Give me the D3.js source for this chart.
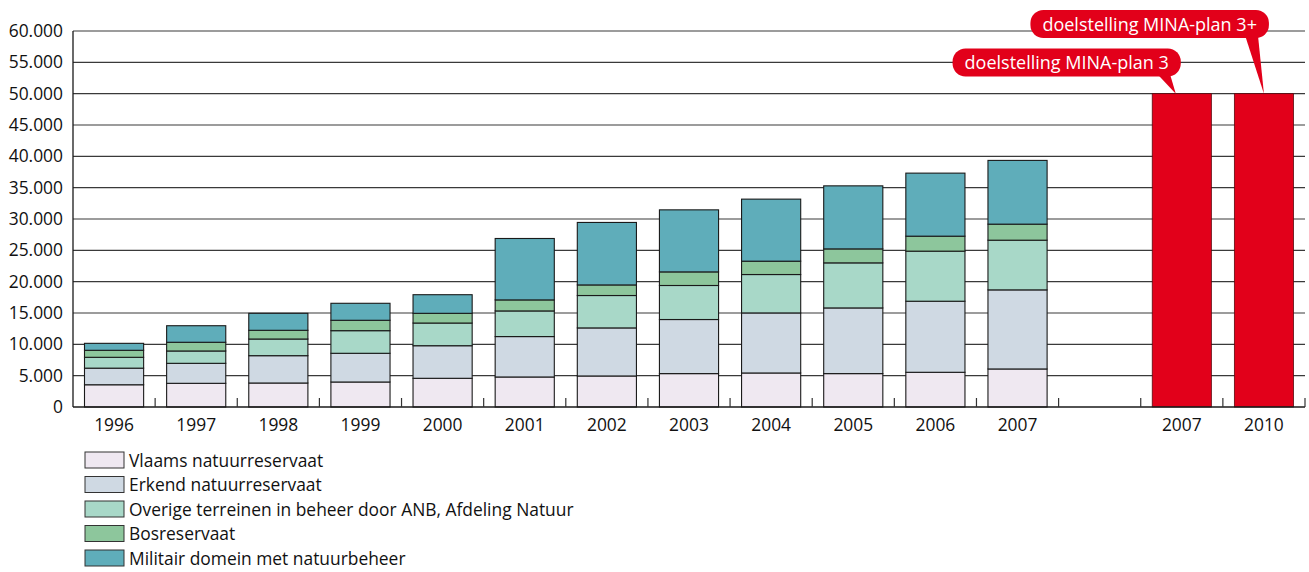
<!DOCTYPE html>
<html>
<head>
<meta charset="utf-8">
<script src="https://cdn.jsdelivr.net/npm/d3@7"></script>
<style>
  html, body { margin: 0; padding: 0; background: #fff; }
  svg { display: block; font-family: "Open Sans", "Noto Sans", sans-serif; }
</style>
</head>
<body>
<svg id="chart" width="1309" height="572"></svg>
<script>
// ---------- data ----------
const years = ["1996","1997","1998","1999","2000","2001","2002","2003","2004","2005","2006","2007"];
const seriesNames = [
  "Vlaams natuurreservaat",
  "Erkend natuurreservaat",
  "Overige terreinen in beheer door ANB, Afdeling Natuur",
  "Bosreservaat",
  "Militair domein met natuurbeheer"
];
const vlaams   = [3550, 3780, 3830, 3990, 4580, 4790, 4950, 5330, 5430, 5330, 5540, 6070];
const erkend   = [2650, 3190, 4360, 4580, 5200, 6450, 7670, 8630, 9580, 10480, 11340, 12620];
const overige  = [1730, 1970, 2660, 3610, 3620, 4090, 5170, 5430, 6130, 7190, 7990, 7930];
const bos      = [1120, 1390, 1390, 1660, 1550, 1760, 1690, 2170, 2130, 2230, 2390, 2560];
const militair = [1110, 2640, 2710, 2710, 2970, 9800, 9970, 9900, 9900, 10060, 10060, 10170];
const targetLabels = ["2007", "2010"];
const targetValues = [50000, 50000];
const targetNotes  = ["doelstelling MINA-plan 3", "doelstelling MINA-plan 3+"];
const yTicks = [0,5000,10000,15000,20000,25000,30000,35000,40000,45000,50000,55000,60000];

// ---------- styles ----------
const colors = ["#efe8f1", "#cfd9e3", "#a8d8c8", "#8dc69c", "#5fadba"];
const red = "#e2001a";
const textColor = "#111";

const svg = d3.select("#chart");
const mLeft = 73, mRight = 1305, mTop = 31, mBottom = 407;

// category keys: years, a gap, then the targets
const targetKeys = targetLabels.map(d => "t" + d);
const keys = years.concat(["gap"], targetKeys);
const labelOf = k => k === "gap" ? "" : (k[0] === "t" ? k.slice(1) : k);

const x = d3.scaleBand().domain(keys).range([mLeft, mRight]).paddingInner(0.28).paddingOuter(0.14);
const y = d3.scaleLinear().domain([0, 60000]).range([mBottom, mTop]);
const step = x.step();

// gridlines
svg.append("g").selectAll("line").data(yTicks.filter(d => d > 0)).join("line")
  .attr("x1", mLeft).attr("x2", mRight)
  .attr("y1", d => y(d)).attr("y2", d => y(d))
  .attr("stroke", "#3a3a3a").attr("stroke-width", 1.2);

// y axis labels
const yAxis = d3.axisLeft(y).tickValues(yTicks).tickSize(0).tickPadding(10)
  .tickFormat(d => d === 0 ? "0" : d3.format(",")(d).replace(/,/g, "."));
const gy = svg.append("g").attr("transform", `translate(${mLeft},0)`).call(yAxis);
gy.select(".domain").remove();
gy.selectAll("text").attr("font-size", 17.4).attr("fill", textColor).attr("font-family", "Open Sans");

// stacked data
const rows = years.map((yr, i) => ({ key: yr, v: [vlaams[i], erkend[i], overige[i], bos[i], militair[i]] }));
const stack = d3.stack().keys([0,1,2,3,4]).value((d, k) => d.v[k]);
const stacked = stack(rows);

const gBars = svg.append("g");
stacked.forEach((layer, li) => {
  gBars.append("g").selectAll("rect").data(layer).join("rect")
    .attr("x", d => x(d.data.key))
    .attr("width", x.bandwidth())
    .attr("y", d => y(d[1]))
    .attr("height", d => y(d[0]) - y(d[1]))
    .attr("fill", colors[li])
    .attr("stroke", "#1a1a1a").attr("stroke-width", 1.1);
});

// target bars
svg.append("g").selectAll("rect").data(targetKeys).join("rect")
  .attr("x", d => x(d)).attr("width", x.bandwidth())
  .attr("y", (d, i) => y(targetValues[i]))
  .attr("height", (d, i) => y(0) - y(targetValues[i]))
  .attr("fill", red).attr("stroke", "#5a0a10").attr("stroke-width", 0.8);

// axes lines
svg.append("line").attr("x1", mLeft).attr("x2", mLeft).attr("y1", y(60000)).attr("y2", y(0))
  .attr("stroke", "#1a1a1a").attr("stroke-width", 1.3);
svg.append("line").attr("x1", mLeft).attr("x2", mRight).attr("y1", y(0)).attr("y2", y(0))
  .attr("stroke", "#1a1a1a").attr("stroke-width", 1.5);

// slot boundary ticks
const bounds = keys.map(k => x(k) + x.bandwidth() + step * 0.14);
svg.append("g").selectAll("line").data(bounds).join("line")
  .attr("x1", d => d).attr("x2", d => d)
  .attr("y1", y(0)).attr("y2", y(0) - 9)
  .attr("stroke", "#333").attr("stroke-width", 1.2);

// x labels
const xAxis = d3.axisBottom(x).tickSize(0).tickPadding(12).tickFormat(labelOf);
const gx = svg.append("g").attr("transform", `translate(0,${mBottom})`).call(xAxis);
gx.select(".domain").remove();
gx.selectAll("text").attr("font-size", 17.4).attr("fill", textColor).attr("font-family", "Open Sans");

// callouts
const calloutTop = [48.5, 10];
const tipShift = [-6, 0];
targetKeys.forEach((k, i) => {
  const g = svg.append("g");
  const tipX = x(k) + x.bandwidth() / 2 + tipShift[i];
  const tipY = y(targetValues[i]);
  const t = g.append("text").text(targetNotes[i])
    .attr("font-size", 18).attr("fill", "#fff").attr("font-family", "Open Sans");
  const w = t.node().getComputedTextLength();
  const h = 28;
  const bx1 = tipX + 5;
  const bx0 = bx1 - w - 24;
  const by0 = calloutTop[i];
  const by1 = by0 + h;
  g.insert("path", "text")
    .attr("d", `M${tipX - 19},${by1 - 3} L${tipX},${tipY} L${tipX - 6},${by1 - 3} Z`)
    .attr("fill", red);
  g.insert("rect", "text")
    .attr("x", bx0).attr("y", by0).attr("width", bx1 - bx0).attr("height", h)
    .attr("rx", 13).attr("fill", red);
  t.attr("x", bx0 + 12).attr("y", by0 + 20.5);
});

// legend
const lg = svg.append("g").attr("transform", "translate(85,452)");
const li = lg.selectAll("g").data(seriesNames).join("g")
  .attr("transform", (d, i) => `translate(0,${i * 24.5})`);
li.append("rect").attr("width", 39).attr("height", 16)
  .attr("fill", (d, i) => colors[i]).attr("stroke", "#333").attr("stroke-width", 1);
li.append("text").attr("x", 44).attr("y", 14.5).text(d => d)
  .attr("font-size", 17.4).attr("fill", textColor).attr("font-family", "Open Sans");
</script>
</body>
</html>
